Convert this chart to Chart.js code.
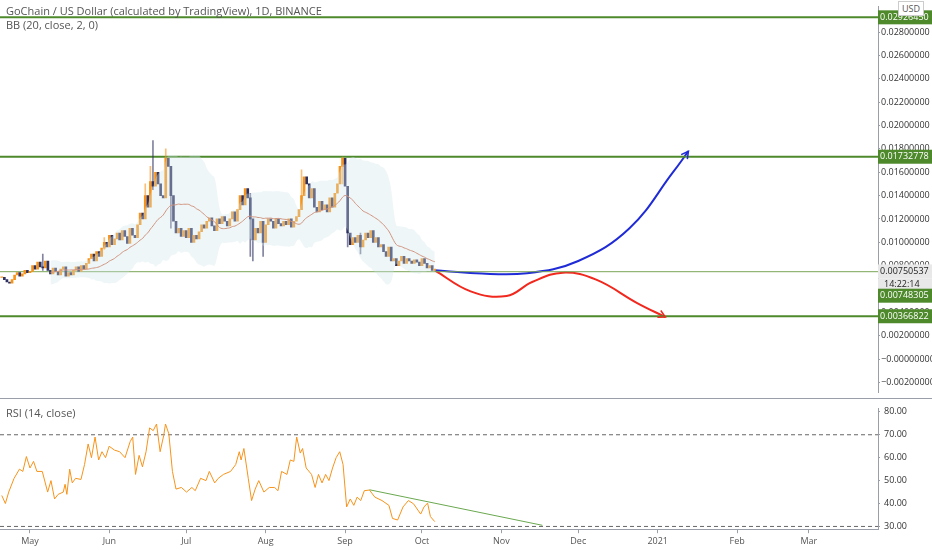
<!DOCTYPE html>
<html>
<head>
<meta charset="utf-8">
<script src="https://cdn.jsdelivr.net/npm/chart.js@4.4.1/dist/chart.umd.min.js"></script>
<style>
  body { margin: 0; background: #fff; font-family: "Open Sans", "DejaVu Sans", sans-serif; }
  #wrap { position: relative; width: 932px; height: 550px; }
  #mainBox { position: absolute; left: 0; top: 0; width: 932px; height: 399px; }
  #rsiBox { position: absolute; left: 0; top: 399px; width: 932px; height: 151px; }
  .lbl { position: absolute; font-size: 11px; color: #555; }
  #sep { position: absolute; left: 0; top: 398px; width: 932px; height: 1px; background: #9a9ea8; }
</style>
</head>
<body>
<div id="wrap">
  <div id="mainBox"><canvas id="mainChart"></canvas></div>
  <div id="rsiBox"><canvas id="rsiChart"></canvas></div>
  <div id="sep"></div>
  <div class="lbl" style="left:6px;top:3px;">GoChain / US Dollar (calculated by TradingView), 1D, BINANCE</div>
  <div class="lbl" style="left:6px;top:17px;">BB (20, close, 2, 0)</div>
  <div class="lbl" style="left:6px;top:405px;">RSI (14, close)</div>
  <div class="lbl" style="left:898px;top:1px;border:1px solid #ccc;padding:0 3px;font-size:9px;background:#fff;">USD</div>
</div>
<script>
// day 0 = Apr 20 2020, prices in units of 0.0001
const closes = [
  70, 68, 66, 65, 68,
  72, 74, 71, 73, 76, 74, 75,
  80, 77, 83, 79, 78, 84, 76,
  73, 78, 75, 72, 77, 79, 71,
  74, 72, 76, 79, 75, 80, 77,
  82, 86, 90, 84, 92, 88,
  95, 100, 96, 106, 98, 103, 108,
  102, 110, 105, 99, 112, 106, 104,
  115, 125, 120, 140, 130, 152,
  148, 160, 150, 140, 138, 172,
  165, 140, 118, 108, 112, 105,
  110, 104, 112, 100, 106, 103, 109,
  115, 112, 118, 121, 114, 110, 120,
  116, 122, 118, 114, 120, 126, 118,
  128, 140, 132, 146, 138, 120,
  102, 112, 108, 118, 100, 115, 120,
  118, 112, 120, 116, 114, 118, 115,
  120, 113, 118, 122, 128, 140, 156,
  150, 138, 146, 130, 126, 135, 128,
  132, 126, 138, 130, 142, 150, 165,
  172, 148, 108, 98, 104, 100,
  106, 96, 102, 108, 104, 110, 100,
  104, 96, 98, 92, 88, 96, 84,
  86, 80, 84, 88, 82, 86, 84,
  82, 85, 83, 80, 86, 82, 78,
  80, 76, 77
];
// notable wicks: [day, high, low]
const wicks = [
  [16, 90, 76], [40, 104, 94], [56, 150, 125], [58, 165, 140], [59, 187, 145],
  [64, 180, 150], [66, 150, 112], [97, 142, 88], [98, 112, 84], [102, 118, 88],
  [117, 162, 128], [133, 173, 150], [135, 112, 96], [140, 108, 90]
];
const levels = [292.645, 173.2778, 74.8305, 36.6822];
const priceTicks = [-0.002, 0, 0.002, 0.004, 0.006, 0.008, 0.010, 0.012, 0.014, 0.016, 0.018, 0.020, 0.022, 0.024, 0.026, 0.028];

const rsiDays = [0, 1.4, 2.7, 4.8, 6.9, 8.2, 9.6, 11, 12.4, 13.7, 15.8, 17.9, 19.2, 20.6, 22, 24, 24.7, 25.4, 26.5, 27.5, 28.8, 30.9, 32.3, 33.7, 35, 36.4, 37.8, 39.1, 40.5, 41.9, 44, 46, 48.1, 50.1, 51.1, 52.2, 53.6, 54.9, 56.3, 57.7, 59.1, 60.4, 61.8, 63.2, 63.9, 65.2, 66.6, 68, 70.1, 72.1, 74.2, 75.5, 77.6, 79.7, 81, 83.1, 84.5, 86.5, 89.3, 91.3, 92.7, 93.4, 94.5, 96.2, 97.5, 98.9, 100.3, 102.3, 104.4, 106.5, 107.8, 109.2, 111.3, 112.6, 114, 115.1, 116.5, 117.4, 118.8, 120.9, 122.3, 123.6, 125, 126.4, 127.7, 129.1, 130.5, 131.9, 133.2, 134.6, 136, 137.4, 138.7, 140.1, 141.5, 143.5, 145.6, 148.4, 151.1, 152.5, 154.5, 156.6, 158.7, 160.7, 163.5, 164.8, 166.2, 167.3, 169];
const rsiValues = [43.5, 40, 45, 51, 55, 54, 60.5, 55.5, 58.4, 54, 54, 45, 50, 42, 44, 45, 48.4, 44, 55, 49, 51, 50.5, 57, 66, 60, 69, 59, 62.6, 60, 65, 63.3, 62.6, 60, 67, 69, 52.7, 61, 56, 62.6, 73, 71.8, 74.7, 62.6, 69.7, 74.7, 70.4, 54, 46.3, 47, 45, 47, 45.6, 51, 50, 54, 49, 51, 52.7, 54, 57, 62.6, 59, 64, 51, 41.3, 46.3, 50, 45, 47, 47, 45.6, 54, 52.7, 59, 58.4, 69, 62, 64, 55.5, 52.7, 47, 52.7, 49, 52.7, 50, 55.5, 60, 62.6, 57, 38.5, 42, 39.2, 42.8, 41.3, 45.6, 45.9, 42.8, 41.3, 39.2, 33.5, 32.8, 38.5, 41.3, 39.9, 35.4, 38.5, 40.2, 34.3, 32.1];
const rsiTicks = [30, 40, 50, 60, 70, 80];

const monthDays = [11, 42, 72, 103, 134, 164, 195, 225, 256, 287, 315];
const monthLabels = ['May', 'Jun', 'Jul', 'Aug', 'Sep', 'Oct', 'Nov', 'Dec', '2021', 'Feb', 'Mar'];

// projection sketch anchors [day, price]
const bluePath = [[169, 76], [185, 73.5], [205, 73.5], [225, 84], [245, 112], [262, 160], [268, 178]];
const redPath = [[169, 76], [183, 58], [197, 54], [207, 66], [219, 74], [232, 68], [248, 48], [259, 36]];
const rsiTrend = [[143.5, 46], [211, 30.5]];

const X_MIN = -0.7, X_MAX = 342, AXIS_W = 54;
const UP = '#f7931a', DOWN = '#2e3160', GREEN = '#4e8a2c';
const FONT = { size: 9, family: '"Open Sans", sans-serif' };
const AXIS_GRID = { display: true, drawOnChartArea: false, drawTicks: true, tickLength: 2, color: '#9a9ea8' };

const bodies = [], wickBars = [], upColors = [], wickColors = [];
closes.forEach((c, i) => {
  const o = i === 0 ? c : closes[i - 1];
  const up = c >= o;
  bodies.push({ x: i, y: [o / 1e4, (c === o ? c + 0.5 : c) / 1e4] });
  upColors.push(up ? UP : DOWN);
  const w = wicks.find(w => w[0] === i);
  if (w) {
    wickBars.push({ x: i, y: [w[2] / 1e4, w[1] / 1e4] });
    wickColors.push(up ? 'rgba(247,147,26,0.6)' : 'rgba(46,49,96,0.6)');
  }
});

const ma = [], bbUp = [], bbLo = [];
closes.forEach((c, i) => {
  if (i < 19) return;
  const win = closes.slice(i - 19, i + 1);
  const m = win.reduce((a, b) => a + b, 0) / 20;
  const sd = Math.sqrt(win.reduce((a, b) => a + (b - m) ** 2, 0) / 20);
  ma.push({ x: i, y: m / 1e4 });
  bbUp.push({ x: i, y: (m + 2 * sd) / 1e4 });
  bbLo.push({ x: i, y: (m - 2 * sd) / 1e4 });
});

function fixWidth(scale) { scale.width = AXIS_W; }

function priceLabel(v) {
  if (Math.abs(v) < 1e-9) return '−0.00000000';
  return v < 0 ? '−' + Math.abs(v).toFixed(8) : v.toFixed(8);
}

const arrowPlugin = {
  id: 'arrows',
  afterDatasetsDraw(chart) {
    const ctx = chart.ctx, xs = chart.scales.x, ys = chart.scales.y;
    [[bluePath, '#1f2bd6'], [redPath, '#f0281e']].forEach(([p, col]) => {
      const a = p[p.length - 2], b = p[p.length - 1];
      const x1 = xs.getPixelForValue(a[0]), y1 = ys.getPixelForValue(a[1] / 1e4);
      const x2 = xs.getPixelForValue(b[0]), y2 = ys.getPixelForValue(b[1] / 1e4);
      const ang = Math.atan2(y2 - y1, x2 - x1);
      ctx.save();
      ctx.strokeStyle = col; ctx.lineWidth = 1.5;
      ctx.beginPath();
      ctx.moveTo(x2 - 8 * Math.cos(ang - 0.5), y2 - 8 * Math.sin(ang - 0.5));
      ctx.lineTo(x2, y2);
      ctx.lineTo(x2 - 8 * Math.cos(ang + 0.5), y2 - 8 * Math.sin(ang + 0.5));
      ctx.stroke();
      ctx.restore();
    });
    // price tags on the right axis
    const tags = [
      [levels[0], GREEN, '#fff', '0.02926450'],
      [levels[1], GREEN, '#fff', '0.01732778'],
      [75.0537, '#e8e8e8', '#222', '0.00750537'],
      [levels[2], GREEN, '#fff', '0.00748305'],
      [levels[3], GREEN, '#fff', '0.00366822']
    ];
    ctx.save();
    ctx.font = '9px "Open Sans", sans-serif';
    ctx.textBaseline = 'middle';
    tags.forEach(([v, bg, fg, txt], k) => {
      let y = ys.getPixelForValue(v / 1e4);
      if (k === 3) y += 24;
      ctx.fillStyle = bg;
      ctx.fillRect(878, y - 7, 54, 14);
      ctx.fillStyle = fg;
      ctx.fillText(txt, 880, y);
      if (k === 2) {
        ctx.fillStyle = '#e8e8e8';
        ctx.fillRect(878, y + 7, 54, 12);
        ctx.fillStyle = '#222';
        ctx.fillText('14:22:14', 884, y + 13);
      }
    });
    ctx.restore();
  }
};

const levelSets = levels.map((v, k) => ({
  type: 'line',
  data: [{ x: X_MIN, y: v / 1e4 }, { x: X_MAX, y: v / 1e4 }],
  borderColor: k === 2 ? '#7aa657' : GREEN,
  borderWidth: k === 2 ? 1 : 2,
  pointRadius: 0
}));

new Chart(document.getElementById('mainChart'), {
  type: 'bar',
  data: {
    datasets: [
      { type: 'line', data: bbUp, borderWidth: 0, pointRadius: 0, tension: 0.4, fill: '+1', backgroundColor: 'rgba(205,228,232,0.35)' },
      { type: 'line', data: bbLo, borderWidth: 0, pointRadius: 0, tension: 0.4 },
      { type: 'line', data: ma, borderColor: '#d2694a', borderWidth: 1, pointRadius: 0, tension: 0.4 },
      { data: wickBars, backgroundColor: wickColors, barThickness: 1, grouped: false },
      { data: bodies, backgroundColor: upColors, barThickness: 2, grouped: false },
      ...levelSets,
      { type: 'line', data: bluePath.map(p => ({ x: p[0], y: p[1] / 1e4 })), borderColor: '#1f2bd6', borderWidth: 2, pointRadius: 0, tension: 0.4 },
      { type: 'line', data: redPath.map(p => ({ x: p[0], y: p[1] / 1e4 })), borderColor: '#f0281e', borderWidth: 2, pointRadius: 0, tension: 0.4 }
    ]
  },
  options: {
    responsive: true, maintainAspectRatio: false, animation: false,
    layout: { padding: 0 },
    plugins: { legend: { display: false }, tooltip: { enabled: false } },
    scales: {
      x: { type: 'linear', min: X_MIN, max: X_MAX, display: false, offset: false },
      y: {
        position: 'right', min: -0.00287, max: 0.0302,
        afterFit: fixWidth,
        afterBuildTicks: s => { s.ticks = priceTicks.map(v => ({ value: v })); },
        border: { color: '#9a9ea8' },
        grid: AXIS_GRID,
        ticks: { color: '#333', font: FONT, padding: 1, callback: v => priceLabel(v) }
      }
    }
  },
  plugins: [arrowPlugin]
});

new Chart(document.getElementById('rsiChart'), {
  type: 'line',
  data: {
    datasets: [
      { data: rsiDays.map((d, i) => ({ x: d, y: rsiValues[i] })), borderColor: '#f7931a', borderWidth: 1, pointRadius: 0 },
      { data: rsiTrend.map(p => ({ x: p[0], y: p[1] })), borderColor: '#6aa84f', borderWidth: 1, pointRadius: 0 },
      { data: [{ x: X_MIN, y: 70 }, { x: X_MAX, y: 70 }], borderColor: '#666', borderWidth: 1, borderDash: [4, 3], pointRadius: 0 },
      { data: [{ x: X_MIN, y: 30 }, { x: X_MAX, y: 30 }], borderColor: '#666', borderWidth: 1, borderDash: [4, 3], pointRadius: 0 }
    ]
  },
  options: {
    responsive: true, maintainAspectRatio: false, animation: false,
    layout: { padding: { top: -6 } },
    plugins: { legend: { display: false }, tooltip: { enabled: false } },
    scales: {
      x: {
        type: 'linear', min: X_MIN, max: X_MAX,
        afterBuildTicks: s => { s.ticks = monthDays.map(v => ({ value: v })); },
        border: { color: '#9a9ea8' },
        grid: { display: true, drawOnChartArea: false, tickLength: 4, color: '#9a9ea8' },
        ticks: { color: '#555', font: FONT, maxRotation: 0, autoSkip: false,
          callback: (v, i) => monthLabels[i] }
      },
      y: {
        position: 'right', min: 28.8, max: 81.5,
        afterFit: fixWidth,
        afterBuildTicks: s => { s.ticks = rsiTicks.map(v => ({ value: v })); },
        border: { color: '#9a9ea8' },
        grid: AXIS_GRID,
        ticks: { color: '#333', font: FONT, padding: 4, callback: v => v.toFixed(2) }
      }
    }
  }
});
</script>
</body>
</html>
